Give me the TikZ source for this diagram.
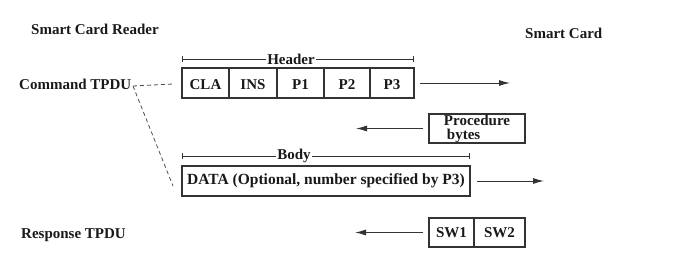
\documentclass[tikz,border=0pt]{standalone}
\usepackage{fontspec}
\setmainfont{Liberation Serif}
\usetikzlibrary{arrows.meta}
\begin{document}
\begin{tikzpicture}[x=1pt,y=-1pt,
  every node/.style={font=\fontsize{15}{14}\selectfont\bfseries, text=black!90},
  label/.style={anchor=base west, inner sep=0pt},
  cell/.style={draw=black!80, line width=1.1pt, minimum height=30pt, inner sep=0pt, outer sep=0pt, anchor=west},
  hcell/.style={cell, text height=13.5pt, text depth=0pt},
  flow/.style={draw=black!80, line width=1pt, -{Latex[length=11pt,width=6pt]}},
  span/.style={draw=black!80, line width=0.9pt, {Bar[width=6pt]}-{Bar[width=6pt]}},
  spantext/.style={fill=white, inner sep=1.5pt},
  link/.style={draw=black!70, line width=0.8pt, dash pattern=on 4pt off 3pt}]
\useasboundingbox (0,0) rectangle (676,276);

% side labels
\node[label] (reader) at (31,34) {Smart Card Reader};
\node[label] (card) at (525,38) {Smart Card};
\node[label] (cmd) at (19,89.5) {Command TPDU};
\node[label] (resp) at (21,238) {Response TPDU};

% command header cells
\node[hcell, minimum width=47pt] (cla) at (182,83) {CLA};
\node[hcell, minimum width=48pt] (ins) at (cla.east) {INS};
\node[hcell, minimum width=47pt] (p1) at (ins.east) {P1};
\node[hcell, minimum width=46pt] (p2) at (p1.east) {P2};
\node[hcell, minimum width=44pt] (p3) at (p2.east) {P3};

% header span
\coordinate (hl) at (182,59);
\coordinate (hr) at (414,59);
\draw[span] (hl) -- (hr);
\node[spantext] (htext) at (291,59) {Header};

% procedure bytes
\node[cell, minimum width=96pt, minimum height=29pt, align=left] (proc) at (429,128.5) {Procedure\\\hspace*{3pt}bytes};

% body span and data
\coordinate (bl) at (182,156);
\coordinate (br) at (470,156);
\draw[span] (bl) -- (br);
\node[spantext] (btext) at (294,156) {Body};
\node[cell, minimum width=288pt, font=\fontsize{15.5}{14}\selectfont\bfseries] (data) at (182,181) {DATA (Optional, number specified by P3)};

% status words
\node[cell, minimum width=45pt, minimum height=29pt] (sw1) at (429,232.5) {SW1};
\node[cell, minimum width=51pt, minimum height=29pt] (sw2) at (sw1.east) {SW2};

% transfer arrows
\coordinate (hout) at (510,83);
\coordinate (pin) at (356,128.5);
\coordinate (dout) at (544,181);
\coordinate (swin) at (355,232.5);
\draw[flow] ([xshift=6pt]p3.east) -- (hout);
\draw[flow] ([xshift=-6pt]proc.west) -- (pin);
\draw[flow] ([xshift=7pt]data.east) -- (dout);
\draw[flow] ([xshift=-6pt]sw1.west) -- (swin);

% command TPDU pointers
\coordinate (fork) at (133,86);
\coordinate (hend) at (173,84);
\coordinate (dend) at (173,186);
\draw[link] (fork) -- (hend);
\draw[link] (fork) -- (dend);
\end{tikzpicture}
\end{document}
